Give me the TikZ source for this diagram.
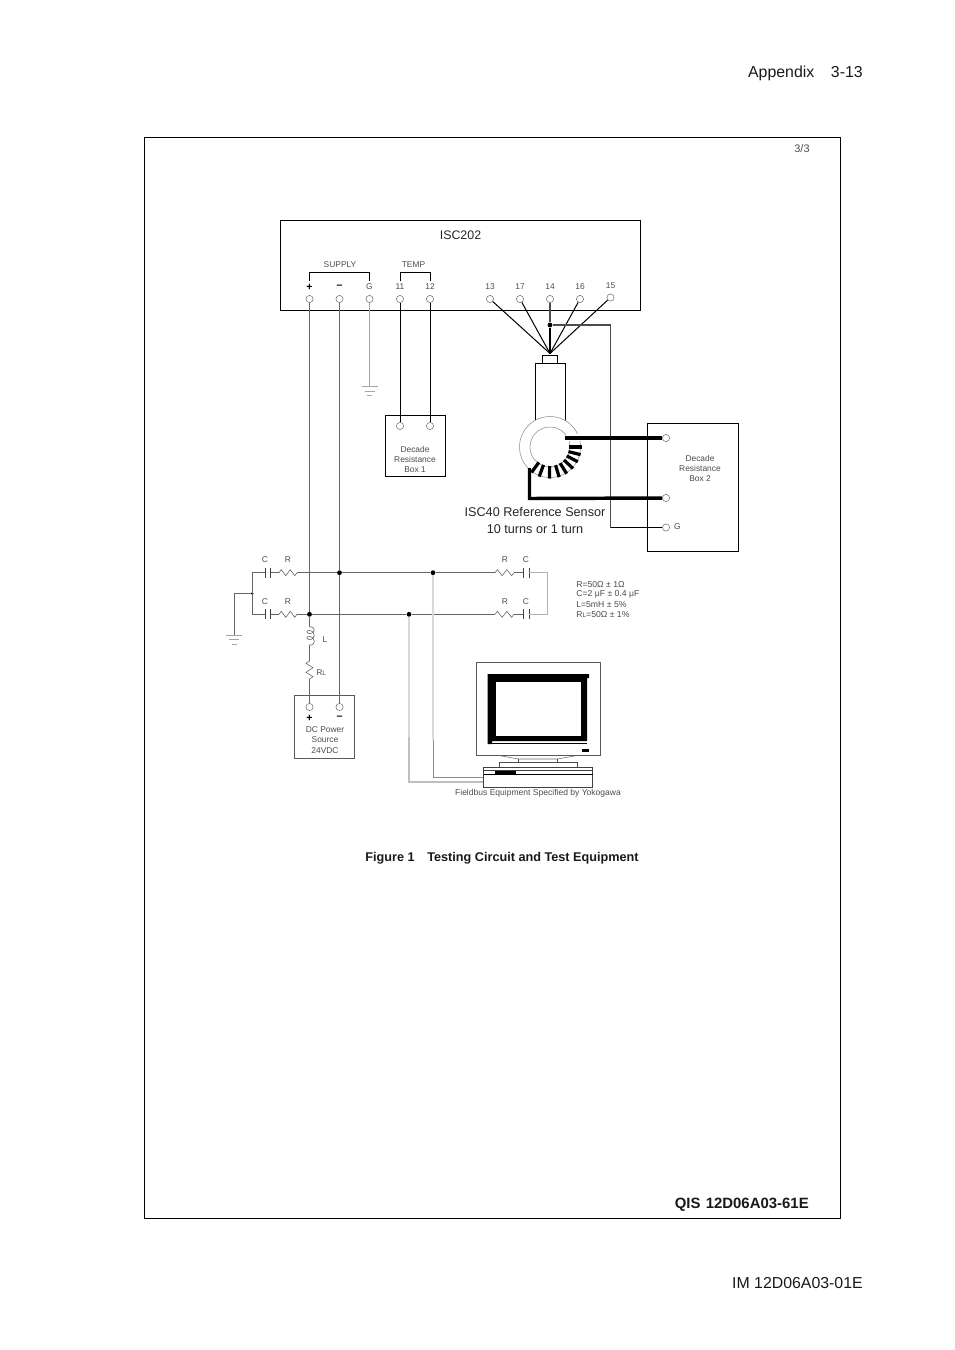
\documentclass[tikz,border=0pt]{standalone}
\usepackage{fontspec}
\setmainfont{Liberation Sans}
\newcommand{\fs}[1]{\fontsize{#1}{#1}\selectfont}
\newcommand{\zigh}[3]{% x0 x1 y
  \draw[wirethin] (#1,#3) -- ++({(#2-#1)/8},-3) -- ++({(#2-#1)/4},6) -- ++({(#2-#1)/4},-6) -- ++({(#2-#1)/4},6) -- ++({(#2-#1)/8},-3);}
\newcommand{\zigv}[3]{% y0 y1 x
  \draw[wirethin] (#3,#1) -- ++(-3.5,{(#2-#1)/8}) -- ++(7,{(#2-#1)/4}) -- ++(-7,{(#2-#1)/4}) -- ++(7,{(#2-#1)/4}) -- ++(-3.5,{(#2-#1)/8});}
\newcommand{\caph}[3]{% x0 x1 y
  \draw[wirethin,draw=black!75] (#1,#3-5) -- (#1,#3+5) (#2,#3-5) -- (#2,#3+5);}
\newcommand{\gnd}[2]{%
  \draw[draw=black!35,line width=.6pt] (#1-8,#2) -- (#1+8,#2) (#1-5,#2+4.5) -- (#1+5,#2+4.5) (#1-2.5,#2+9) -- (#1+2.5,#2+9);}
\tikzset{
  term/.style={circle,draw=black!55,fill=white,line width=.4pt,inner sep=0pt,minimum size=5.4pt},
  jdot/.style={circle,fill=black,inner sep=0pt,minimum size=3.6pt},
  smalldot/.style={circle,fill=black,inner sep=0pt,minimum size=2pt},
  lab/.style={inner sep=0pt,text=black!70,font=\fs{6.3}},
  wirethin/.style={draw=black!60,line width=.45pt},
  wire/.style={draw=black!70,line width=.5pt},
  wireblk/.style={draw=black,line width=.75pt},
  wiredark/.style={draw=black!70,line width=.9pt},
  wirepale/.style={draw=black!15,line width=1.3pt},
  box/.style={draw=black,line width=.6pt},
  boxthin/.style={draw=black!65,line width=.5pt},
  coil/.style={draw=black,line width=2.4pt},
  thick wire/.style={draw=black,line width=2.6pt},
  pagetext/.style={inner sep=0pt,text=black!90}
}
\begin{document}
\begin{tikzpicture}[x=0.75pt,y=-0.75pt]
\useasboundingbox (0,0) rectangle (954,1350);
% page
\draw[box] (144,137) rectangle (840,1218);
\node[pagetext,anchor=east,font=\fs{11.9}] (app) at (863,73) {Appendix\hspace{1.05em}3-13};
\node[pagetext,anchor=east,font=\fs{11.9}] (im) at (863,1283) {IM 12D06A03-01E};
\node[lab,font=\fs{8.2}] (pg) at (802,149) {3/3};
\node[pagetext,font=\bfseries\fs{9.5}] (fig) at (502,858) {Figure 1\hspace{1em}Testing Circuit and Test Equipment};
\node[pagetext,anchor=east,font=\bfseries\fs{11.2}] (qis) at (809,1205) {QIS\hspace{.35em}12D06A03-61E};
% ISC202
\draw[box] (280.5,220.5) rectangle (640,310.5);
\node[inner sep=0pt,font=\fs{9.3},text=black!85] (isc) at (460.5,235) {ISC202};
\node[lab] (sup) at (340,264.5) {SUPPLY};
\node[lab] (tmp) at (413.5,264.5) {TEMP};
\draw[wireblk] (309.5,281) -- (309.5,272.5) -- (369.5,272.5) -- (369.5,281);
\draw[wireblk] (400,281) -- (400,272.5) -- (430,272.5) -- (430,281);
\foreach \n/\x/\t in {tg/369.5/G,t11/400/11,t12/430/12}
  \node[lab] (l\n) at (\x,286.5) {\t};
\node[lab,text=black,font=\bfseries\fs{8}] (ltp) at (309.5,287.5) {+};
\node[lab,text=black,font=\bfseries\fs{8}] (ltm) at (339.5,287) {--};
\foreach \n/\x in {13/490,17/520,14/550,16/580}
  \node[lab] (l\n) at (\x,286.5) {\n};
\node[lab] (l15) at (610.5,286) {15};
\foreach \n/\x in {tp/309.5,tm/339.5,tg/369.5,t11/400,t12/430,t13/490,t17/520,t14/550,t16/580}
  \node[term] (\n) at (\x,299) {};
\node[term] (t15) at (610.5,297.5) {};
% sensor
\coordinate (conv) at (550,353.5);
\node[jdot] (j14) at (550,325) {};
\draw[wireblk] (t13) -- (conv); \draw[wireblk] (t17) -- (conv);
\draw[wireblk] (t16) -- (conv); \draw[wireblk] (t15) -- (conv);
\draw[wiredark] (t14) -- (j14);
\draw[wireblk,line width=.9pt] (j14) -- (conv);
\draw[wireblk,line width=.6pt] (542.5,355.5) rectangle (557.5,363.5);
\draw[wireblk,line width=.6pt] (535.5,363.5) rectangle (565.5,420);
\fill[white] (550,447) circle (30.5);
\draw[draw=black!45,line width=.4pt] (550,447) circle (30.5);
\draw[draw=black!45,line width=.4pt] (550,447) circle (20);
\fill[white] (566,433.5) rectangle (582,441);
\foreach \a in {0,-14,-28,-43,-58,-73,-91,-110,-126}
  \draw[coil] ({550+19*cos(\a)},{447-19*sin(\a)}) -- ({550+31.5*cos(\a)},{447-31.5*sin(\a)});
% Box 2
\draw[box] (647.5,423.5) rectangle (738.5,551);
\node[term] (b2a) at (666,438) {};
\node[term] (b2b) at (666,498) {};
\node[term] (b2g) at (666,527.5) {};
\node[lab,align=center,font=\fs{6.3}] (b2t) at (700,468) {Decade\\[1.2pt]Resistance\\[1.2pt]Box 2};
\node[lab] (b2gl) at (677.5,527) {G};
\coordinate (dk) at (610.5,325);
\coordinate (dk2) at (610.5,527.5);
\draw[wiredark] (j14) -- (dk) -- (dk2);
\draw[wireblk,line width=.5pt] (dk2) -- (b2g);
\coordinate (w1) at (565,438);
\coordinate (w2a) at (529.5,468);
\coordinate (w2b) at (529.5,498.5);
\draw[thick wire] (w1) -- (b2a);
\draw[thick wire,line join=miter] (w2a) -- (w2b) -- (b2b);
\node[inner sep=0pt,font=\fs{9.5},text=black!85,align=center] (sens) at (535,520.5) {ISC40 Reference Sensor\\[3pt]10 turns or 1 turn};
% Box 1
\draw[box] (385.5,415.5) rectangle (445.5,476.5);
\node[term] (b1a) at (400,426) {};
\node[term] (b1b) at (430,426) {};
\node[lab,align=center] (b1t) at (415,459) {Decade\\[1.2pt]Resistance\\[1.2pt]Box 1};
\draw[wireblk,line width=.65pt] (t11) -- (b1a);
\draw[wireblk,line width=.65pt] (t12) -- (b1b);
% ground of G
\coordinate (g1) at (369.5,386.5);
\draw[draw=black!35,line width=.45pt] (tg) -- (g1);
\gnd{369.5}{386.5}
% RC network
\coordinate (L1) at (252.3,572.7);
\coordinate (L2) at (252.3,614.3);
\coordinate (R1) at (547,572.7);
\coordinate (R2) at (547,614.3);
\node[smalldot] (jl) at (252.3,593.5) {};
\node[jdot] (jt) at (339.5,572.7) {};
\node[jdot] (jf) at (433,572.7) {};
\node[jdot] (jp) at (309.5,614.3) {};
\node[jdot] (je) at (409,614.3) {};
\coordinate (gc) at (234,593.5);
\coordinate (gd) at (234,634.5);
\draw[wirethin] (jl) -- (gc) -- (gd);
\gnd{234}{635}
\draw[wirethin] (265,572.7) -- (L1) -- (L2) -- (265,614.3);
\caph{265}{270.5}{572.7}
\caph{265}{270.5}{614.3}
\draw[wirethin] (270.5,572.7) -- (279,572.7) (270.5,614.3) -- (279,614.3);
\zigh{279}{297}{572.7}
\zigh{279}{297}{614.3}
\draw[wirethin] (297,572.7) -- (jt) (jt) -- (jf) (jf) -- (495,572.7);
\draw[wirethin] (297,614.3) -- (jp) (jp) -- (je) (je) -- (495,614.3);
\zigh{495}{514}{572.7}
\zigh{495}{514}{614.3}
\draw[wirethin] (514,572.7) -- (523,572.7) (514,614.3) -- (523,614.3);
\caph{523}{529}{572.7}
\caph{523}{529}{614.3}
\draw[wirethin,draw=black!30] (529,572.7) -- (R1) -- (R2) -- (529,614.3);
\foreach \n/\x/\y/\t in {c1/265/559.5/C,r1/288/559.5/R,c2/265/601.5/C,r2/288/601.5/R,c3/526/559.5/C,r3/505/559.5/R,c4/526/601.5/C,r4/505/601.5/R}
  \node[lab] (\n) at (\x,\y) {\t};
% spec text
\node[lab,anchor=west,font=\fs{6.5}] (s1) at (576,584.5) {R=50Ω ± 1Ω};
\node[lab,anchor=west,font=\fs{6.5}] (s2) at (576,594.5) {C=2 μF ± 0.4 μF};
\node[lab,anchor=west,font=\fs{6.5}] (s3) at (576,604.5) {L=5mH ± 5\%};
\node[lab,anchor=west,font=\fs{6.5}] (s4) at (576,614.5) {R{\fs{5}L}=50Ω ± 1\%};
% DC source
\draw[boxthin] (294.5,695.5) rectangle (354.5,758.5);
\node[term] (dp) at (309.5,707) {};
\node[term] (dm) at (339.5,707) {};
\node[lab,text=black,font=\bfseries\fs{8}] (dpl) at (309.5,718.5) {+};
\node[lab,text=black,font=\bfseries\fs{8}] (dml) at (339.5,717.5) {--};
\node[lab,align=center] (dct) at (325,740) {DC Power\\[1.2pt]Source\\[2pt]24VDC};
% supply wires
\draw[wirethin] (tp) -- (jp);
\draw[wirethin] (tm) -- (jt);
\draw[wirethin] (jt) -- (dm);
\coordinate (c1) at (309.5,627);
\coordinate (c2) at (309.5,661);
\coordinate (c3) at (309.5,679);
\draw[wirethin] (jp) -- (c1);
\draw[wirethin] (c1) .. controls (316,626) and (316,634) .. (309,633.5)
  .. controls (306,633) and (306,630) .. (309.5,630.5)
  .. controls (316,631) and (316,640) .. (309,639.5)
  .. controls (306,639) and (306,636) .. (309.5,636.5)
  .. controls (316,637) and (316,646) .. (309.5,645) -- (c2);
\zigv{661}{679}{309.5}
\draw[wirethin] (c3) -- (dp);
\node[lab] (ll) at (325,640) {L};
\node[lab,anchor=west] (rl) at (316,672.5) {R{\fs{5}L}};
% fieldbus wires
\coordinate (p1) at (433,740);
\coordinate (p2) at (433,777);
\coordinate (p3) at (483.5,777);
\coordinate (q1) at (409,737);
\coordinate (q2) at (409,782);
\coordinate (q3) at (483.5,782);
\draw[wirepale] (jf) -- (p1);
\draw[wirepale] (je) -- (q1);
\draw[draw=black!45,line width=.5pt] (p1) -- (p2) -- (p3);
\draw[draw=black!25,line width=.9pt] (q1) -- (q2) -- (q3);
% monitor
\draw[draw=black!65,line width=.6pt] (476,662) rectangle (600.5,755.5);
\fill[black] (487.5,674) -- (589,674) -- (589,678) -- (587,678) -- (587,741) -- (492,741) -- (492,744) -- (487.5,744) -- cycle;
\draw[black,line width=.6pt] (492,743) -- (587,743);
\fill[white] (496,681.5) rectangle (580.5,735.5);
\fill[black] (582,749) rectangle (589,752);
\draw[wirethin,line width=.4pt] (499,755.5) -- (518.5,759) -- (557.5,759) -- (577,755.5);
\draw[draw=black!70,line width=.45pt] (518.5,759) -- (518.5,763) (557.5,759) -- (557.5,763);
\draw[draw=black!70,line width=.45pt] (499,767) -- (499,762.5) -- (577,762.5) -- (577,767);
\draw[draw=black!75,line width=.55pt] (483.5,767) rectangle (592.5,787);
\draw[draw=black!75,line width=.35pt] (483.5,770.5) -- (592.5,770.5);
\draw[black,line width=.6pt] (483.5,774.5) -- (592.5,774.5);
\fill[black] (495,771) rectangle (515.5,774);
\node[lab,font=\fs{6.4}] (feq) at (538,793.5) {Fieldbus Equipment Specified by Yokogawa};
\end{tikzpicture}
\end{document}
